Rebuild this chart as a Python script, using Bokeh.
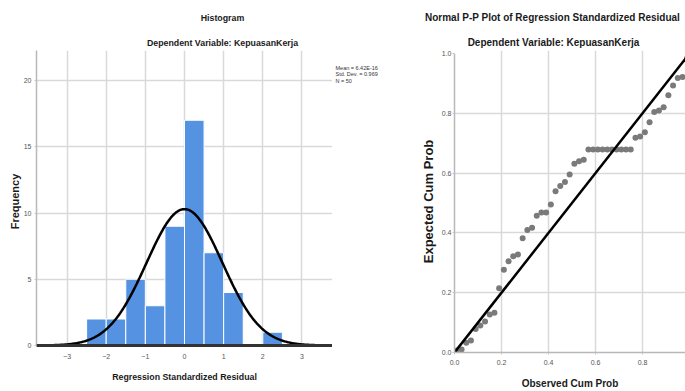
import numpy as np
from bokeh.plotting import figure
from bokeh.models import FixedTicker, Range1d, PrintfTickFormatter, BoxAnnotation, Span
from bokeh.core.properties import value
from bokeh.layouts import row, column
from bokeh.embed import file_html
from bokeh.resources import INLINE

# ---------------- data ----------------
bin_left = [-2.5, -2.0, -1.5, -1.0, -0.5, 0.0, 0.5, 1.0, 1.5, 2.0]
bin_right = [-2.0, -1.5, -1.0, -0.5, 0.0, 0.5, 1.0, 1.5, 2.0, 2.5]
freq = [2, 2, 5, 3, 9, 17, 7, 4, 0, 1]
hist_xticks = [-3, -2, -1, 0, 1, 2, 3]
hist_yticks = [0, 5, 10, 15, 20]
resid_mean = 6.42e-16
resid_sd = 0.969
n_obs = 50
bin_width = 0.5
stats_lines = ["Mean = 6.42E-16", "Std. Dev. = 0.969", "N = 50"]

pp_observed = [0.01, 0.03, 0.05, 0.07, 0.09, 0.11, 0.13, 0.15, 0.17, 0.19,
               0.21, 0.23, 0.25, 0.27, 0.29, 0.31, 0.33, 0.35, 0.37, 0.39,
               0.41, 0.43, 0.45, 0.47, 0.49, 0.51, 0.53, 0.55, 0.57, 0.59,
               0.61, 0.63, 0.65, 0.67, 0.69, 0.71, 0.73, 0.75, 0.77, 0.79,
               0.81, 0.83, 0.85, 0.87, 0.89, 0.91, 0.93, 0.95, 0.97, 0.99]
pp_expected = [0.007, 0.010, 0.033, 0.040, 0.079, 0.090, 0.104, 0.127, 0.133, 0.215,
               0.277, 0.305, 0.322, 0.328, 0.382, 0.410, 0.417, 0.457, 0.468, 0.468,
               0.495, 0.539, 0.557, 0.570, 0.595, 0.631, 0.640, 0.645, 0.679, 0.679,
               0.679, 0.679, 0.679, 0.679, 0.679, 0.679, 0.679, 0.679, 0.718, 0.722,
               0.737, 0.770, 0.804, 0.809, 0.820, 0.860, 0.893, 0.918, 0.921, 0.985]
pp_ticks = [0.0, 0.2, 0.4, 0.6, 0.8, 1.0]
pp_grid = [0.2, 0.4, 0.6, 0.8]
diag_x = [0.0, 1.0]
diag_y = [0.0, 1.0]

titles_left = ["Histogram", "Dependent Variable: KepuasanKerja"]
titles_right = ["Normal P-P Plot of Regression Standardized Residual",
                "Dependent Variable: KepuasanKerja"]

# ---------------- style ----------------
FONT = "Liberation Sans"
BAR = "#5592e2"
GRID = "#d9d9d9"
TICKC = "#555555"
TXT = "#1a1a1a"
W, H = 685, 391
TOP = 50              # both plot frames start here
FRAME_BOTTOM = 352    # both plot frames end here (row aligns them)
H2 = H - TOP
BOTTOM_BORDER = H - FRAME_BOTTOM


def style_axes(p, xstand, ystand):
    for ax in (p.xaxis[0], p.yaxis[0]):
        ax.major_label_text_font = FONT
        ax.major_label_text_font_size = "7px"
        ax.major_label_text_color = TICKC
        ax.minor_tick_line_color = None
        ax.major_tick_in = 0
        ax.major_tick_out = 2
        ax.major_tick_line_color = "#c4c4c4"
        ax.axis_line_color = "#b8b8b8"
        ax.axis_line_width = 1.5
        ax.axis_label_text_font = FONT
        ax.axis_label_text_font_style = "bold"
        ax.axis_label_text_color = TXT
    p.xaxis[0].major_label_standoff = xstand
    p.yaxis[0].major_label_standoff = ystand
    p.xgrid.grid_line_color = GRID
    p.ygrid.grid_line_color = GRID
    p.xgrid.grid_line_width = 1.5
    p.ygrid.grid_line_width = 1.5
    p.outline_line_color = None


def text_fig(w, h):
    f = figure(width=w, height=h, x_range=Range1d(0, w), y_range=Range1d(h, 0),
               x_axis_type=None, y_axis_type=None, output_backend="svg",
               toolbar_location=None, min_border=0)
    f.outline_line_color = None
    f.grid.visible = False
    return f


# ---------------- title strip ----------------
tf = text_fig(W, TOP)
tf.text(x=[222, 222], y=[17, 42], text=titles_left, text_font=value(FONT),
        text_font_size="8.8px", text_font_style="bold", text_align="center",
        text_baseline="middle", text_color=TXT)
tf.text(x=[552, 553], y=[17, 42], text=titles_right, text_font=value(FONT),
        text_font_size="10px", text_font_style="bold", text_align="center",
        text_baseline="middle", text_color=TXT)

# ---------------- histogram ----------------
f1_left, f1_right, f1_zero = 36, 332, 345
hist_ppu = 13.25
x1_start, x1_end = -3.78, 3.78
y1_start = -(FRAME_BOTTOM - f1_zero) / hist_ppu
y1_end = (f1_zero - TOP) / hist_ppu
p1 = figure(width=f1_right, height=H2, x_range=Range1d(x1_start, x1_end),
            y_range=Range1d(y1_start, y1_end), output_backend="svg", toolbar_location=None,
            min_border_left=f1_left, min_border_right=0,
            min_border_top=0, min_border_bottom=BOTTOM_BORDER)
p1.xaxis.ticker = FixedTicker(ticks=hist_xticks)
p1.yaxis.ticker = FixedTicker(ticks=hist_yticks)
style_axes(p1, 1, 3)
p1.yaxis.bounds = (0, y1_end)
p1.xaxis.axis_line_color = None
p1.xaxis.major_tick_line_color = None
p1.xaxis.major_tick_out = 0
p1.yaxis.axis_label = "Frequency"
p1.yaxis.axis_label_text_font_size = "11px"
p1.yaxis.axis_label_standoff = 0
p1.xaxis.axis_label = "Regression Standardized Residual"
p1.xaxis.axis_label_text_font_size = "8.8px"
p1.xaxis.axis_label_standoff = 10
# hide the grid below the zero baseline
p1.add_layout(BoxAnnotation(top=0, fill_color="white", fill_alpha=1.0,
                            line_color=None, level="underlay"))

p1.quad(left=bin_left, right=bin_right, bottom=0, top=freq,
        fill_color=BAR, line_color="white", line_width=1)

cx = np.linspace(x1_start, x1_end, 400)
cy = n_obs * bin_width / (resid_sd * np.sqrt(2 * np.pi)) * np.exp(-0.5 * ((cx - resid_mean) / resid_sd) ** 2)
p1.line(cx, cy, line_color="black", line_width=2.5)
# thick baseline at zero frequency
p1.add_layout(Span(location=0, dimension="width", line_color="#333333", line_width=3))

# ---------------- stats strip ----------------
S_LEFT, S_RIGHT = 332, 415
sf = text_fig(S_RIGHT - S_LEFT, H2)
sf.text(x=[3, 3, 3], y=[20, 27, 34], text=stats_lines, text_font=value(FONT),
        text_font_size="5.5px", text_align="left", text_baseline="middle",
        text_color="#333333")

# ---------------- P-P plot ----------------
f2_left, f2_one = 454, 53
pp_xppu = 235.0
pp_yppu = float(FRAME_BOTTOM - f2_one)
x2_end = (W - f2_left) / pp_xppu
y2_end = (FRAME_BOTTOM - TOP) / pp_yppu
p2 = figure(width=W - S_RIGHT, height=H2, x_range=Range1d(0, x2_end), y_range=Range1d(0, y2_end),
            output_backend="svg", toolbar_location=None,
            min_border_left=f2_left - S_RIGHT, min_border_right=0,
            min_border_top=0, min_border_bottom=BOTTOM_BORDER)
p2.xaxis.ticker = FixedTicker(ticks=pp_ticks)
p2.yaxis.ticker = FixedTicker(ticks=pp_ticks)
p2.xaxis.formatter = PrintfTickFormatter(format="%.1f")
p2.yaxis.formatter = PrintfTickFormatter(format="%.1f")
p2.xgrid.ticker = FixedTicker(ticks=pp_grid)
p2.ygrid.ticker = FixedTicker(ticks=pp_grid)
p2.yaxis.bounds = (0, 1)
style_axes(p2, 5, 1)
p2.yaxis.axis_label = "Expected Cum Prob"
p2.yaxis.axis_label_text_font_size = "13px"
p2.yaxis.axis_label_standoff = 3
p2.xaxis.axis_label = "Observed Cum Prob"
p2.xaxis.axis_label_text_font_size = "10px"
p2.xaxis.axis_label_standoff = 10

p2.scatter(pp_observed, pp_expected, size=6, fill_color="#7a7a7a", line_color=None)
p2.line(diag_x, diag_y, line_color="black", line_width=2.5)

layout = column(tf, row(p1, sf, p2))
open("out.html", "w").write(file_html(layout, INLINE))
